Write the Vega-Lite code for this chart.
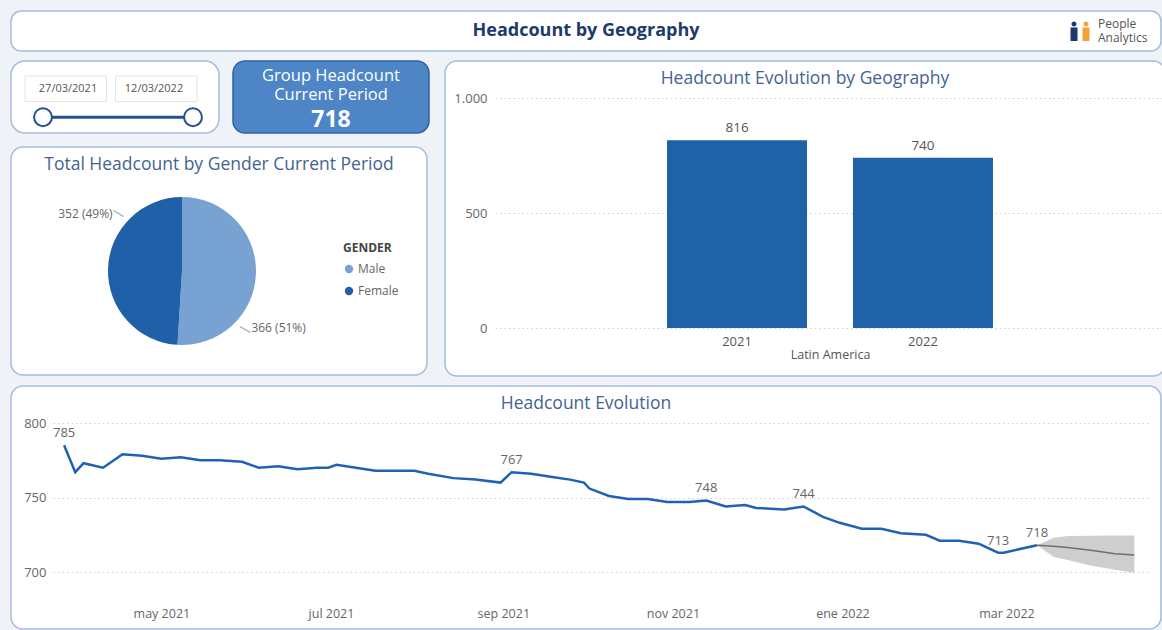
{
  "$schema": "https://vega.github.io/schema/vega-lite/v6.json",
  "background": "#eff2f6",
  "padding": {"left": 10, "top": 10, "right": 0, "bottom": 0},
  "spacing": 8,
  "resolve": {"scale": {"color": "independent"}, "legend": {"color": "independent"}},
  "config": {
    "font": "Open Sans",
    "view": {"fill": "white", "stroke": "#a3bde0", "strokeWidth": 1.5, "cornerRadius": 12},
    "title": {"anchor": "middle", "frame": "group", "baseline": "top", "offset": -26, "fontSize": 17.5, "fontWeight": "normal", "color": "#44648f"},
    "axis": {"domain": false, "ticks": false, "labelColor": "#666666", "labelFontSize": 13, "gridColor": "#cfcfcf", "gridDash": [1.5, 3], "titleColor": "#555555", "titleFontWeight": "normal", "titleFontSize": 12.5},
    "locale": {
      "number": {"decimal": ",", "thousands": ".", "grouping": [3], "currency": ["", " €"]},
      "time": {
        "dateTime": "%A, %e de %B de %Y, %X",
        "date": "%d/%m/%Y",
        "time": "%H:%M:%S",
        "periods": ["AM", "PM"],
        "days": ["domingo", "lunes", "martes", "miércoles", "jueves", "viernes", "sábado"],
        "shortDays": ["dom", "lun", "mar", "mié", "jue", "vie", "sáb"],
        "months": ["enero", "febrero", "marzo", "abril", "mayo", "junio", "julio", "agosto", "septiembre", "octubre", "noviembre", "diciembre"],
        "shortMonths": ["ene", "feb", "mar", "abr", "may", "jun", "jul", "ago", "sep", "oct", "nov", "dic"]
      }
    }
  },
  "datasets": {
    "actual": [
      {"date": "2021-03-27", "headcount": 785},
      {"date": "2021-03-31", "headcount": 767},
      {"date": "2021-04-03", "headcount": 773},
      {"date": "2021-04-10", "headcount": 770},
      {"date": "2021-04-17", "headcount": 779},
      {"date": "2021-04-24", "headcount": 778},
      {"date": "2021-05-01", "headcount": 776},
      {"date": "2021-05-08", "headcount": 777},
      {"date": "2021-05-15", "headcount": 775},
      {"date": "2021-05-22", "headcount": 775},
      {"date": "2021-05-30", "headcount": 774},
      {"date": "2021-06-05", "headcount": 770},
      {"date": "2021-06-12", "headcount": 771},
      {"date": "2021-06-19", "headcount": 769},
      {"date": "2021-06-26", "headcount": 770},
      {"date": "2021-06-30", "headcount": 770},
      {"date": "2021-07-03", "headcount": 772},
      {"date": "2021-07-17", "headcount": 768},
      {"date": "2021-07-31", "headcount": 768},
      {"date": "2021-08-05", "headcount": 766},
      {"date": "2021-08-14", "headcount": 763},
      {"date": "2021-08-22", "headcount": 762},
      {"date": "2021-08-31", "headcount": 760},
      {"date": "2021-09-04", "headcount": 767},
      {"date": "2021-09-11", "headcount": 766},
      {"date": "2021-09-18", "headcount": 764},
      {"date": "2021-09-25", "headcount": 762},
      {"date": "2021-09-30", "headcount": 760},
      {"date": "2021-10-02", "headcount": 756},
      {"date": "2021-10-09", "headcount": 751},
      {"date": "2021-10-16", "headcount": 749},
      {"date": "2021-10-23", "headcount": 749},
      {"date": "2021-10-30", "headcount": 747},
      {"date": "2021-11-07", "headcount": 747},
      {"date": "2021-11-13", "headcount": 748},
      {"date": "2021-11-20", "headcount": 744},
      {"date": "2021-11-27", "headcount": 745},
      {"date": "2021-12-01", "headcount": 743},
      {"date": "2021-12-11", "headcount": 742},
      {"date": "2021-12-18", "headcount": 744},
      {"date": "2021-12-25", "headcount": 737},
      {"date": "2021-12-31", "headcount": 733},
      {"date": "2022-01-08", "headcount": 729},
      {"date": "2022-01-15", "headcount": 729},
      {"date": "2022-01-22", "headcount": 726},
      {"date": "2022-01-31", "headcount": 725},
      {"date": "2022-02-05", "headcount": 721},
      {"date": "2022-02-12", "headcount": 721},
      {"date": "2022-02-19", "headcount": 719},
      {"date": "2022-02-26", "headcount": 713},
      {"date": "2022-02-28", "headcount": 713},
      {"date": "2022-03-12", "headcount": 718}
    ],
    "forecast": [
      {"date": "2022-03-12", "forecast": 718, "lower": 718, "upper": 718},
      {"date": "2022-03-18", "forecast": 717.2, "lower": 710, "upper": 723},
      {"date": "2022-03-23", "forecast": 716.5, "lower": 708, "upper": 724.2},
      {"date": "2022-04-01", "forecast": 714.5, "lower": 704, "upper": 724.4},
      {"date": "2022-04-09", "forecast": 712.3, "lower": 701.5, "upper": 724.5},
      {"date": "2022-04-16", "forecast": 711.4, "lower": 699.5, "upper": 724.5}
    ],
    "labels": [
      {"date": "2021-03-27", "headcount": 785},
      {"date": "2021-09-04", "headcount": 767},
      {"date": "2021-11-13", "headcount": 748},
      {"date": "2021-12-18", "headcount": 744},
      {"date": "2022-02-26", "headcount": 713},
      {"date": "2022-03-12", "headcount": 718}
    ]
  },
  "vconcat": [
    {
      "width": 1150,
      "height": 40,
      "view": {"cornerRadius": 10},
      "layer": [
        {
          "data": {"values": [{"title": "Headcount by Geography"}]},
          "mark": {"type": "text", "fontSize": 18, "fontWeight": "bold", "color": "#1e3a6b"},
          "encoding": {"text": {"field": "title"}}
        },
        {
          "data": {"values": [{"part": "figure 1"}]},
          "mark": {"type": "point", "filled": true, "opacity": 1, "size": 400, "color": "#1e3a6b", "shape": "M-0.35,-0.35H0.35V1H-0.35Z M-0.25,-0.7a0.25,0.25 0 1,0 0.5,0a0.25,0.25 0 1,0 -0.5,0"},
          "encoding": {
            "x": {"field": "part", "type": "nominal", "axis": null, "scale": {"type": "point", "domain": ["figure 1", "figure 2", "logo"], "range": [1063, 1087], "padding": 0}}
          }
        },
        {
          "data": {"values": [{"part": "figure 2"}]},
          "mark": {"type": "point", "filled": true, "opacity": 1, "size": 400, "color": "#f2a33a", "shape": "M-0.35,-0.35H0.35V1H-0.35Z M-0.25,-0.7a0.25,0.25 0 1,0 0.5,0a0.25,0.25 0 1,0 -0.5,0"},
          "encoding": {
            "x": {"field": "part", "type": "nominal"}
          }
        },
        {
          "data": {"values": [{"part": "logo", "text": "People\nAnalytics"}]},
          "mark": {"type": "text", "align": "left", "baseline": "top", "fontSize": 12, "color": "#555555", "lineBreak": "\n", "lineHeight": 14, "dy": -12},
          "encoding": {
            "x": {"field": "part", "type": "nominal"},
            "text": {"field": "text"}
          }
        }
      ]
    },
    {
      "resolve": {"scale": {"color": "independent"}, "legend": {"color": "independent"}},
      "hconcat": [
        {
          "resolve": {"scale": {"color": "independent"}, "legend": {"color": "independent"}},
          "vconcat": [
            {
              "hconcat": [
                {
                  "width": 208,
                  "height": 72,
                  "view": {"cornerRadius": 14},
                  "data": {"values": [{"label": "27/03/2021", "date": "2021-03-27"}, {"label": "12/03/2022", "date": "2022-03-12"}]},
                  "resolve": {"scale": {"x": "independent"}},
                  "layer": [
                    {
                      "mark": {"type": "rect", "fill": "white", "stroke": "#e4e4e4", "strokeWidth": 1},
                      "encoding": {
                        "x": {"field": "label", "type": "nominal", "sort": null, "axis": null, "scale": {"range": [14, 186], "paddingInner": 0.1, "paddingOuter": 0}},
                        "y": {"datum": "dates", "type": "nominal", "axis": null, "scale": {"domain": ["dates", "slider"], "range": [15, 69], "paddingInner": 0.1, "paddingOuter": 0}}
                      }
                    },
                    {
                      "mark": {"type": "text", "fontSize": 11, "color": "#555555"},
                      "encoding": {
                        "x": {"field": "label", "type": "nominal", "sort": null, "axis": null, "scale": {"range": [14, 186], "paddingInner": 0.1, "paddingOuter": 0}},
                        "y": {"datum": "dates", "type": "nominal"},
                        "text": {"field": "label"}
                      }
                    },
                    {
                      "mark": {"type": "rule", "color": "#24508f", "strokeWidth": 3},
                      "encoding": {
                        "x": {"aggregate": "min", "field": "date", "type": "temporal", "axis": null, "scale": {"range": [32, 182], "nice": false}},
                        "x2": {"aggregate": "max", "field": "date"},
                        "y": {"datum": "slider", "type": "nominal"}
                      }
                    },
                    {
                      "mark": {"type": "point", "shape": "circle", "filled": true, "fill": "white", "stroke": "#24508f", "strokeWidth": 2, "size": 320, "opacity": 1},
                      "encoding": {
                        "x": {"field": "date", "type": "temporal", "axis": null, "scale": {"range": [32, 182], "nice": false}},
                        "y": {"datum": "slider", "type": "nominal"}
                      }
                    }
                  ]
                },
                {
                  "width": 196,
                  "height": 72,
                  "view": {"fill": "#4d85c6", "stroke": "#2d62a5", "strokeWidth": 1.5, "cornerRadius": 12},
                  "data": {"values": [{"metric": "Group Headcount\nCurrent Period", "headcount": 718}]},
                  "layer": [
                    {
                      "mark": {"type": "text", "color": "white", "fontSize": 16.5, "lineBreak": "\n", "lineHeight": 19},
                      "encoding": {
                        "text": {"field": "metric"},
                        "y": {"datum": "metric", "type": "nominal", "axis": null, "scale": {"type": "point", "domain": ["metric", "headcount"], "range": [15, 59], "padding": 0}}
                      }
                    },
                    {
                      "mark": {"type": "text", "color": "white", "fontSize": 23, "fontWeight": "bold"},
                      "encoding": {
                        "text": {"field": "headcount"},
                        "y": {"datum": "headcount", "type": "nominal"}
                      }
                    }
                  ]
                }
              ],
              "spacing": 12
            },
            {
              "width": 416,
              "height": 228,
              "title": {"text": "Total Headcount by Gender Current Period"},
              "data": {"values": [{"gender": "Male", "headcount": 366, "label": "366 (51%)"}, {"gender": "Female", "headcount": 352, "label": "352 (49%)"}]},
              "encoding": {
                "theta": {"field": "headcount", "type": "quantitative", "stack": true},
                "order": {"field": "gender", "sort": "descending"},
                "x": {"datum": 0, "type": "quantitative", "axis": null, "scale": {"domain": [-1, 1], "range": [97, 245]}},
                "y": {"datum": 0, "type": "quantitative", "axis": null, "scale": {"domain": [-1, 1], "range": [198, 50]}}
              },
              "layer": [
                {
                  "mark": {"type": "arc", "outerRadius": 74},
                  "encoding": {
                    "color": {
                      "field": "gender", "type": "nominal",
                      "scale": {"domain": ["Male", "Female"], "range": ["#78a2d2", "#1f60a8"]},
                      "legend": {"title": "GENDER", "orient": "none", "legendX": 332, "legendY": 96, "titleFontSize": 12, "titleFontWeight": "bold", "titleColor": "#444444", "labelFontSize": 12, "labelColor": "#666666", "symbolType": "circle", "symbolSize": 70, "rowPadding": 10, "titlePadding": 8, "labelOffset": 3}
                    }
                  }
                },
                {
                  "mark": {"type": "text", "text": "—", "radius": 86, "thetaOffset": 0.71, "angle": 30, "fontSize": 13, "color": "#aaaaaa"},
                  "encoding": {
                    "detail": {"field": "gender"}
                  }
                },
                {
                  "mark": {"type": "text", "radius": 112, "thetaOffset": 0.5, "fontSize": 12, "color": "#666666"},
                  "encoding": {
                    "detail": {"field": "gender"},
                    "text": {"field": "label"}
                  }
                }
              ]
            }
          ],
          "spacing": 12
        },
        {
          "width": 720,
          "height": 315,
          "title": {"text": "Headcount Evolution by Geography"},
          "data": {"values": [{"year": "2021", "headcount": 816}, {"year": "2022", "headcount": 740}]},
          "encoding": {
            "x": {"field": "year", "type": "nominal", "scale": {"range": [50, 720], "paddingInner": 0.247, "paddingOuter": 0.925}, "axis": {"title": "Latin America", "labelAngle": 0, "offset": -48, "labelPadding": 7, "labelFontSize": 13, "labelColor": "#555555", "titlePadding": 0, "titleFontSize": 12.5, "titleColor": "#555555"}},
            "y": {"field": "headcount", "type": "quantitative", "scale": {"domain": [0, 1000], "range": [267, 37], "nice": false}, "axis": {"title": null, "values": [0, 500, 1000], "format": ",d", "offset": -47, "labelPadding": 5, "grid": true}}
          },
          "layer": [
            {"mark": {"type": "bar", "color": "#2062a8"}},
            {"mark": {"type": "text", "baseline": "bottom", "dy": -5, "fontSize": 13.5, "color": "#555555"}, "encoding": {"text": {"field": "headcount"}}}
          ]
        }
      ],
      "spacing": 14
    },
    {
      "width": 1150,
      "height": 243,
      "title": {"text": "Headcount Evolution"},
      "layer": [
        {
          "data": {"name": "forecast"},
          "mark": {"type": "area", "color": "#c9c9c9", "opacity": 0.9},
          "encoding": {
            "x": {"field": "date", "type": "temporal", "title": null, "scale": {"domain": [{"year": 2021, "month": 3, "date": 23, "utc": true}, {"year": 2022, "month": 4, "date": 22, "utc": true}], "range": [42, 1140], "nice": false}, "axis": {"title": null, "format": "%b %Y", "tickCount": {"interval": "month", "step": 2}, "offset": -24, "labelPadding": 2, "grid": false, "labelFontSize": 12.5, "labelColor": "#666666"}},
            "y": {"field": "lower", "type": "quantitative", "title": null, "scale": {"domain": [700, 800], "range": [186, 37], "nice": false, "zero": false}, "axis": {"title": null, "values": [700, 750, 800], "offset": -40, "labelPadding": 5, "grid": true}},
            "y2": {"field": "upper"}
          }
        },
        {
          "data": {"name": "forecast"},
          "mark": {"type": "line", "color": "#6e6e6e", "strokeWidth": 1.5},
          "encoding": {
            "x": {"field": "date", "type": "temporal", "title": null},
            "y": {"field": "forecast", "type": "quantitative", "title": null}
          }
        },
        {
          "data": {"name": "actual"},
          "mark": {"type": "line", "color": "#1f62b3", "strokeWidth": 2.5},
          "encoding": {
            "x": {"field": "date", "type": "temporal", "title": null},
            "y": {"field": "headcount", "type": "quantitative", "title": null}
          }
        },
        {
          "data": {"name": "labels"},
          "mark": {"type": "text", "baseline": "bottom", "dy": -5, "fontSize": 13, "color": "#666666"},
          "encoding": {
            "x": {"field": "date", "type": "temporal", "title": null},
            "y": {"field": "headcount", "type": "quantitative", "title": null},
            "text": {"field": "headcount"}
          }
        }
      ]
    }
  ]
}
